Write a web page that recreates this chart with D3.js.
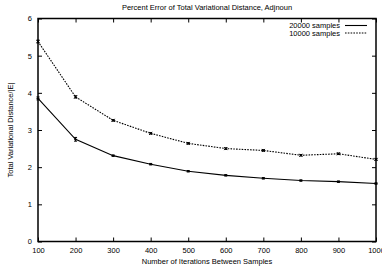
<!DOCTYPE html>
<meta charset="utf-8">
<script src="https://d3js.org/d3.v7.min.js"></script>
<style>
  body { margin: 0; background: #fff; }
  text { font-family: "Liberation Sans", Arial, sans-serif; fill: #000; }
</style>
<body>
<div id="chart"></div>
<script>
// data
var iterations = [100, 200, 300, 400, 500, 600, 700, 800, 900, 1000];
var samples20000 = [3.85, 2.75, 2.31, 2.08, 1.89, 1.78, 1.70, 1.64, 1.61, 1.56];
var err20000 = [0.04, 0.05, 0.02, 0.02, 0.02, 0.02, 0.02, 0.02, 0.02, 0.02];
var samples10000 = [5.38, 3.89, 3.26, 2.91, 2.64, 2.50, 2.45, 2.32, 2.36, 2.21];
var err10000 = [0.04, 0.03, 0.02, 0.02, 0.02, 0.02, 0.02, 0.02, 0.02, 0.02];
var yTicks = [0, 1, 2, 3, 4, 5, 6];
var seriesNames = ["20000 samples", "10000 samples"];

var W = 382, H = 270;
var margin = {top: 18.5, right: 6, bottom: 28.5, left: 38};
var width = W - margin.left - margin.right,
    height = H - margin.top - margin.bottom;

var svg = d3.select("#chart").append("svg")
    .attr("width", W).attr("height", H);

var g = svg.append("g")
    .attr("transform", "translate(" + margin.left + "," + margin.top + ")");

var x = d3.scaleLinear().domain([100, 1000]).range([0, width]);
var y = d3.scaleLinear().domain([0, 6]).range([height, 0]);

// ticks inward on all four sides (gnuplot style)
var tl = 4;
g.append("g").attr("transform", "translate(0," + height + ")")
  .call(d3.axisBottom(x).tickValues(iterations).tickSize(-tl).tickPadding(6).tickFormat(d3.format("d")))
  .call(function(a) { a.select(".domain").remove(); });
g.append("g")
  .call(d3.axisTop(x).tickValues(iterations).tickSize(-tl).tickFormat(""))
  .call(function(a) { a.select(".domain").remove(); });
g.append("g")
  .call(d3.axisLeft(y).tickValues(yTicks).tickSize(-tl).tickPadding(6).tickFormat(d3.format("d")))
  .call(function(a) { a.select(".domain").remove(); });
g.append("g").attr("transform", "translate(" + width + ",0)")
  .call(d3.axisRight(y).tickValues(yTicks).tickSize(-tl).tickFormat(""))
  .call(function(a) { a.select(".domain").remove(); });

g.selectAll(".tick text").attr("font-size", 7.5).attr("font-family", "Liberation Sans, Arial, sans-serif");
g.selectAll(".tick line").attr("stroke", "#000");

// frame
g.append("rect").attr("width", width).attr("height", height)
  .attr("fill", "none").attr("stroke", "#000").attr("stroke-width", 1.5);

function drawSeries(vals, errs, dash, marker) {
  var pts = iterations.map(function(d, i) { return {x: d, y: vals[i], e: errs[i]}; });
  g.append("path").datum(pts)
    .attr("fill", "none").attr("stroke", "#000").attr("stroke-width", 1.1)
    .attr("stroke-dasharray", dash)
    .attr("d", d3.line().x(function(d) { return x(d.x); }).y(function(d) { return y(d.y); }));
  // error bars and point markers
  var eb = g.append("g").attr("stroke", "#000").attr("stroke-width", 1);
  pts.forEach(function(d) {
    var cx = x(d.x), cy = y(d.y);
    eb.append("line").attr("x1", cx).attr("x2", cx).attr("y1", y(d.y - d.e)).attr("y2", y(d.y + d.e));
    eb.append("line").attr("x1", cx - 1.5).attr("x2", cx + 1.5).attr("y1", y(d.y - d.e)).attr("y2", y(d.y - d.e));
    eb.append("line").attr("x1", cx - 1.5).attr("x2", cx + 1.5).attr("y1", y(d.y + d.e)).attr("y2", y(d.y + d.e));
    if (marker === "x") {
      eb.append("path").attr("d", "M" + (cx - 1.5) + "," + (cy - 1.5) + "l3,3M" + (cx - 1.5) + "," + (cy + 1.5) + "l3,-3");
    } else {
      eb.append("path").attr("d", "M" + (cx - 1.5) + "," + cy + "h3");
    }
  });
}
drawSeries(samples20000, err20000, null, "+");
drawSeries(samples10000, err10000, "1.6,1.2", "x");

// legend
var leg = g.append("g");
seriesNames.forEach(function(name, i) {
  var ly = 7 + i * 7.5;
  leg.append("text").attr("x", 302).attr("y", ly + 2.5)
    .attr("text-anchor", "end").attr("font-size", 7.5).text(name);
  leg.append("line").attr("x1", 307).attr("x2", 329).attr("y1", ly).attr("y2", ly)
    .attr("stroke", "#000").attr("stroke-width", 1.1)
    .attr("stroke-dasharray", i === 1 ? "1.6,1.2" : null);
});

// titles
svg.append("text").attr("x", 207).attr("y", 10).attr("text-anchor", "middle")
  .attr("font-size", 7.5).text("Percent Error of Total Variational Distance, Adjnoun");
svg.append("text").attr("x", 207).attr("y", 264).attr("text-anchor", "middle")
  .attr("font-size", 7.5).text("Number of Iterations Between Samples");
svg.append("text").attr("transform", "translate(13," + (margin.top + height / 2) + ") rotate(-90)")
  .attr("text-anchor", "middle").attr("font-size", 7.5).text("Total Variational Distance/|E|");
</script>
</body>
